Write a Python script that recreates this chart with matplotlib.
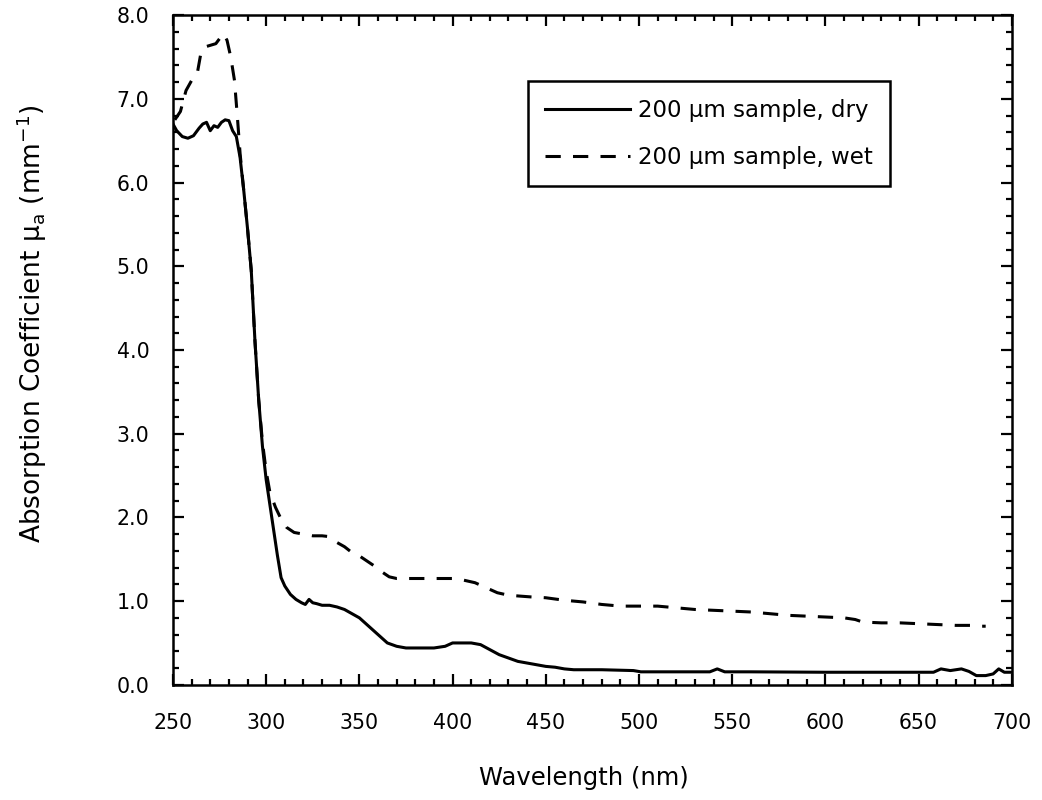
import matplotlib
matplotlib.use("Agg")
import matplotlib.pyplot as plt
from matplotlib.ticker import MultipleLocator, FormatStrFormatter

# spectra
wl_dry = [250, 252, 255, 258, 261, 264, 266, 268, 270, 272, 274, 276, 278, 280,
          282, 284, 286, 288, 290, 292, 294, 296, 298, 300, 302, 304, 306, 308,
          310, 313, 316, 319, 321, 323, 325, 327, 330, 334, 338, 342, 346, 350,
          355, 360, 365, 370, 375, 380, 390, 396, 400, 405, 410, 415, 420, 425,
          430, 435, 440, 445, 450, 455, 460, 465, 480, 497, 501, 520, 538, 542,
          546, 560, 600, 640, 658, 662, 667, 673, 677, 681, 686, 690, 693, 696, 700]
mua_dry = [6.7, 6.62, 6.55, 6.53, 6.56, 6.65, 6.7, 6.72, 6.62, 6.68, 6.66, 6.72,
           6.75, 6.74, 6.62, 6.55, 6.3, 5.9, 5.45, 4.95, 4.1, 3.4, 2.85, 2.45,
           2.15, 1.85, 1.55, 1.28, 1.18, 1.08, 1.02, 0.98, 0.96, 1.02, 0.98, 0.97,
           0.95, 0.95, 0.93, 0.9, 0.85, 0.8, 0.7, 0.6, 0.5, 0.46, 0.44, 0.44, 0.44,
           0.46, 0.5, 0.5, 0.5, 0.48, 0.42, 0.36, 0.32, 0.28, 0.26, 0.24, 0.22,
           0.21, 0.19, 0.18, 0.18, 0.17, 0.155, 0.155, 0.155, 0.19, 0.155, 0.155,
           0.15, 0.15, 0.15, 0.19, 0.17, 0.19, 0.16, 0.11, 0.11, 0.13, 0.19, 0.15, 0.15]

wl_wet = [251, 254, 257, 260, 263, 265, 267, 270, 273, 275, 277, 279, 281, 283,
          284.5, 286, 288, 290, 292, 294, 296, 298, 300, 302, 305, 308, 311, 315,
          320, 325, 330, 334, 338, 342, 346, 350, 354, 358, 362, 366, 370, 378,
          390, 400, 406, 412, 418, 424, 430, 436, 442, 450, 460, 470, 480, 490,
          500, 510, 520, 530, 540, 550, 560, 570, 580, 590, 600, 610, 616, 620,
          630, 640, 650, 660, 670, 680, 684, 686]
mua_wet = [6.75, 6.85, 7.1, 7.22, 7.3, 7.55, 7.62, 7.64, 7.66, 7.72, 7.78, 7.7,
           7.5, 7.22, 6.8, 6.35, 5.9, 5.45, 4.95, 4.1, 3.4, 2.9, 2.55, 2.3, 2.12,
           1.98, 1.88, 1.82, 1.8, 1.78, 1.78, 1.77, 1.7, 1.65, 1.58, 1.54, 1.48,
           1.42, 1.35, 1.29, 1.27, 1.27, 1.27, 1.27, 1.25, 1.22, 1.16, 1.1, 1.07,
           1.06, 1.05, 1.04, 1.01, 0.99, 0.96, 0.94, 0.94, 0.94, 0.92, 0.9, 0.89,
           0.88, 0.87, 0.85, 0.83, 0.82, 0.81, 0.8, 0.78, 0.75, 0.74, 0.74, 0.73,
           0.72, 0.71, 0.71, 0.7, 0.7]

labels = ["200 \u00b5m sample, dry", "200 \u00b5m sample, wet"]

plt.rcParams["font.family"] = ["DejaVu Sans"]
plt.rcParams["mathtext.fontset"] = "dejavusans"

fig = plt.figure(figsize=(10.42, 8.0), dpi=100)
ax = fig.add_axes([0.166, 0.144, 0.805, 0.837])

ax.plot(wl_dry, mua_dry, color="black", lw=2.2, label=labels[0])
ax.plot(wl_wet, mua_wet, color="black", lw=2.2, linestyle=(0, (5, 4)), label=labels[1])

ax.set_xlim(250, 700)
ax.set_ylim(0, 8)
ax.xaxis.set_major_locator(MultipleLocator(50))
ax.xaxis.set_minor_locator(MultipleLocator(10))
ax.yaxis.set_major_locator(MultipleLocator(1))
ax.yaxis.set_minor_locator(MultipleLocator(0.2))
ax.yaxis.set_major_formatter(FormatStrFormatter("%.1f"))

ax.tick_params(which="both", direction="in", top=True, right=True, width=1.6)
ax.tick_params(which="major", length=8, labelsize=14.8)
ax.tick_params(which="minor", length=4)
ax.tick_params(axis="x", which="major", pad=20)
ax.tick_params(axis="y", which="major", pad=17)
for sp in ax.spines.values():
    sp.set_linewidth(1.8)

ax.set_xlabel("Wavelength (nm)", fontsize=17.5)
ax.set_ylabel("Absorption Coefficient \u00b5$_\\mathrm{a}$ (mm$^{\\mathrm{-1}}$)",
              fontsize=19)
ax.xaxis.set_label_coords(0.49, -0.122)
ax.yaxis.set_label_coords(-0.148, 0.54)

leg = ax.legend(loc="upper left", bbox_to_anchor=(0.423, 0.901), borderaxespad=0,
                fontsize=16.5, handlelength=3.7, handletextpad=0.35, fancybox=False,
                framealpha=1, edgecolor="black", borderpad=0.75, labelspacing=1.05)
leg.get_frame().set_linewidth(1.8)

fig.savefig("out.png", dpi=100)
